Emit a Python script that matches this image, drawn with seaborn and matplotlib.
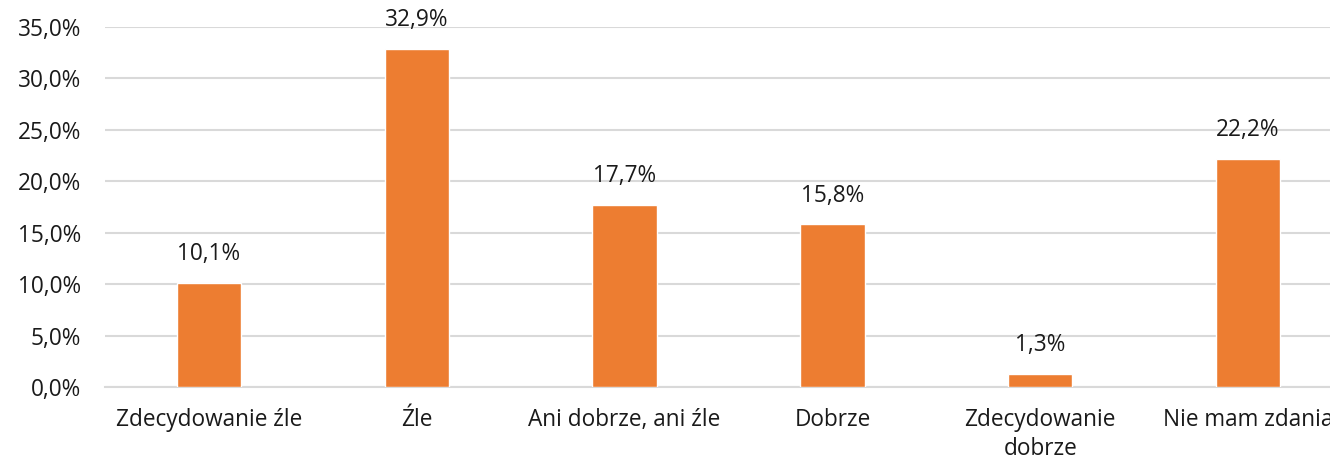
import seaborn as sns
import pandas as pd
import matplotlib.pyplot as plt

categories = ["Zdecydowanie źle", "Źle", "Ani dobrze, ani źle", "Dobrze",
              "Zdecydowanie\ndobrze", "Nie mam zdania"]
values = [10.1, 32.9, 17.7, 15.8, 1.3, 22.2]
yticks = [0, 5, 10, 15, 20, 25, 30, 35]

df = pd.DataFrame({"kat": categories, "proc": values})

sns.set_style("white")
plt.rcParams['font.family'] = ['Open Sans', 'DejaVu Sans']

fig = plt.figure(figsize=(13.3, 4.61), dpi=100)
# the plot runs past the right edge, as in the original (last label is cut off)
ax = fig.add_axes([105 / 1330, 74 / 461, 1247 / 1330, 360 / 461])

sns.barplot(data=df, x="kat", y="proc", color="#ED7D31", width=0.31,
            saturation=1, ax=ax, zorder=3)

fs = 16.3
ax.set_ylim(0, 35)
ax.set_yticks(yticks)
ax.set_yticklabels([f"{t:.1f}%".replace(".", ",") for t in yticks])
ax.grid(axis="y", color="#D9D9D9", linewidth=1.5, zorder=0)
ax.set_axisbelow(True)
for s in ["top", "right", "left"]:
    ax.spines[s].set_visible(False)
ax.spines["bottom"].set_color("#D9D9D9")
ax.spines["bottom"].set_linewidth(1.5)
ax.tick_params(axis="both", length=0, labelsize=fs, colors="#1a1a1a")
ax.tick_params(axis="x", pad=15)
ax.tick_params(axis="y", pad=17)
for lbl in ax.get_xticklabels():
    lbl.set_linespacing(1.3)
ax.set_xlabel("")
ax.set_ylabel("")

ax.bar_label(ax.containers[0], labels=[f"{v:.1f}%".replace(".", ",") for v in values],
             padding=12, fontsize=fs, color="#1a1a1a")

fig.savefig("out.png", dpi=100)
